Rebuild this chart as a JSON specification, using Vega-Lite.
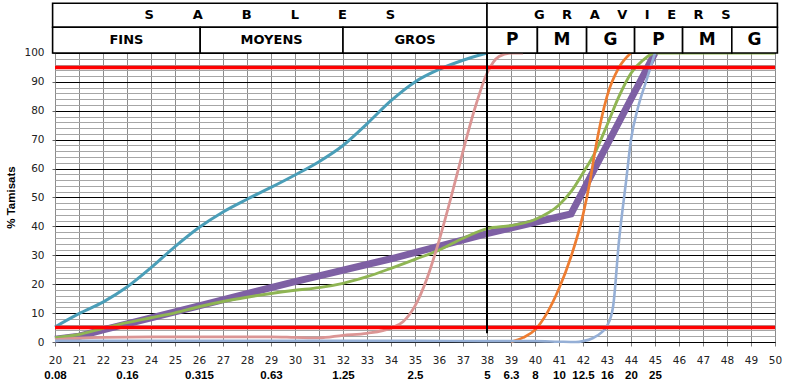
{
  "$schema": "https://vega.github.io/schema/vega-lite/v6.json",
  "width": 720,
  "height": 339,
  "autosize": {"type": "none"},
  "padding": {"left": 55, "top": 3, "right": 23, "bottom": 44},
  "config": {"view": {"stroke": null}},
  "resolve": {"axis": {"x": "independent", "y": "independent"}},
  "datasets": {
    "courbes": [
      {"serie": "Fuseau", "module": 20, "tamisat": 1},
      {"serie": "Fuseau", "module": 21, "tamisat": 2},
      {"serie": "Fuseau", "module": 22, "tamisat": 4.2},
      {"serie": "Fuseau", "module": 26, "tamisat": 12.5},
      {"serie": "Fuseau", "module": 30, "tamisat": 20.9},
      {"serie": "Fuseau", "module": 34, "tamisat": 28.8},
      {"serie": "Fuseau", "module": 38, "tamisat": 37.5},
      {"serie": "Fuseau", "module": 41.5, "tamisat": 44.3},
      {"serie": "Fuseau", "module": 45, "tamisat": 100},

      {"serie": "Sable 1", "module": 20, "tamisat": 5.2},
      {"serie": "Sable 1", "module": 21, "tamisat": 9.8},
      {"serie": "Sable 1", "module": 22, "tamisat": 13.8},
      {"serie": "Sable 1", "module": 23, "tamisat": 19},
      {"serie": "Sable 1", "module": 24, "tamisat": 25.7},
      {"serie": "Sable 1", "module": 25, "tamisat": 33},
      {"serie": "Sable 1", "module": 26, "tamisat": 39.6},
      {"serie": "Sable 1", "module": 27, "tamisat": 45},
      {"serie": "Sable 1", "module": 28, "tamisat": 49.4},
      {"serie": "Sable 1", "module": 29, "tamisat": 53.5},
      {"serie": "Sable 1", "module": 30, "tamisat": 57.8},
      {"serie": "Sable 1", "module": 31, "tamisat": 62.4},
      {"serie": "Sable 1", "module": 32, "tamisat": 68},
      {"serie": "Sable 1", "module": 33, "tamisat": 75.5},
      {"serie": "Sable 1", "module": 34, "tamisat": 83.5},
      {"serie": "Sable 1", "module": 35, "tamisat": 90},
      {"serie": "Sable 1", "module": 36, "tamisat": 94.3},
      {"serie": "Sable 1", "module": 37, "tamisat": 97.5},
      {"serie": "Sable 1", "module": 38, "tamisat": 100},

      {"serie": "Mélange", "module": 20, "tamisat": 1.5},
      {"serie": "Mélange", "module": 21, "tamisat": 2.6},
      {"serie": "Mélange", "module": 22, "tamisat": 4.7},
      {"serie": "Mélange", "module": 23, "tamisat": 6.7},
      {"serie": "Mélange", "module": 24, "tamisat": 8.4},
      {"serie": "Mélange", "module": 25, "tamisat": 10.1},
      {"serie": "Mélange", "module": 26, "tamisat": 12.2},
      {"serie": "Mélange", "module": 27, "tamisat": 14},
      {"serie": "Mélange", "module": 28, "tamisat": 15.5},
      {"serie": "Mélange", "module": 29, "tamisat": 16.8},
      {"serie": "Mélange", "module": 30, "tamisat": 17.9},
      {"serie": "Mélange", "module": 31, "tamisat": 18.8},
      {"serie": "Mélange", "module": 32, "tamisat": 20.3},
      {"serie": "Mélange", "module": 33, "tamisat": 22.6},
      {"serie": "Mélange", "module": 34, "tamisat": 25.5},
      {"serie": "Mélange", "module": 35, "tamisat": 28.6},
      {"serie": "Mélange", "module": 36, "tamisat": 31.8},
      {"serie": "Mélange", "module": 37, "tamisat": 35.9},
      {"serie": "Mélange", "module": 38, "tamisat": 39.2},
      {"serie": "Mélange", "module": 39, "tamisat": 40.3},
      {"serie": "Mélange", "module": 40, "tamisat": 42.4},
      {"serie": "Mélange", "module": 41, "tamisat": 47.4},
      {"serie": "Mélange", "module": 41.5, "tamisat": 52},
      {"serie": "Mélange", "module": 42, "tamisat": 58.5},
      {"serie": "Mélange", "module": 42.5, "tamisat": 65.5},
      {"serie": "Mélange", "module": 43, "tamisat": 75},
      {"serie": "Mélange", "module": 43.5, "tamisat": 85},
      {"serie": "Mélange", "module": 44, "tamisat": 93},
      {"serie": "Mélange", "module": 44.5, "tamisat": 97.5},
      {"serie": "Mélange", "module": 45, "tamisat": 100},
      {"serie": "Mélange", "module": 50, "tamisat": 100},

      {"serie": "Sable 2", "module": 20, "tamisat": 0.8},
      {"serie": "Sable 2", "module": 21, "tamisat": 1.3},
      {"serie": "Sable 2", "module": 22, "tamisat": 1.6},
      {"serie": "Sable 2", "module": 24, "tamisat": 1.8},
      {"serie": "Sable 2", "module": 26, "tamisat": 1.8},
      {"serie": "Sable 2", "module": 28, "tamisat": 1.8},
      {"serie": "Sable 2", "module": 29, "tamisat": 1.8},
      {"serie": "Sable 2", "module": 30, "tamisat": 1.6},
      {"serie": "Sable 2", "module": 31, "tamisat": 1.4},
      {"serie": "Sable 2", "module": 32, "tamisat": 2.3},
      {"serie": "Sable 2", "module": 33, "tamisat": 3},
      {"serie": "Sable 2", "module": 34, "tamisat": 4.8},
      {"serie": "Sable 2", "module": 34.5, "tamisat": 7},
      {"serie": "Sable 2", "module": 35, "tamisat": 12.5},
      {"serie": "Sable 2", "module": 35.5, "tamisat": 22},
      {"serie": "Sable 2", "module": 36, "tamisat": 35},
      {"serie": "Sable 2", "module": 36.5, "tamisat": 50},
      {"serie": "Sable 2", "module": 37, "tamisat": 66},
      {"serie": "Sable 2", "module": 37.5, "tamisat": 81},
      {"serie": "Sable 2", "module": 38, "tamisat": 93},
      {"serie": "Sable 2", "module": 38.5, "tamisat": 98.8},
      {"serie": "Sable 2", "module": 39, "tamisat": 100},
      {"serie": "Sable 2", "module": 39.5, "tamisat": 100},

      {"serie": "Gravier 1", "module": 39, "tamisat": 0},
      {"serie": "Gravier 1", "module": 39.5, "tamisat": 1.5},
      {"serie": "Gravier 1", "module": 40, "tamisat": 4.2},
      {"serie": "Gravier 1", "module": 40.5, "tamisat": 10},
      {"serie": "Gravier 1", "module": 41, "tamisat": 18.5},
      {"serie": "Gravier 1", "module": 41.5, "tamisat": 29.5},
      {"serie": "Gravier 1", "module": 42, "tamisat": 44},
      {"serie": "Gravier 1", "module": 42.3, "tamisat": 56},
      {"serie": "Gravier 1", "module": 42.5, "tamisat": 66},
      {"serie": "Gravier 1", "module": 43, "tamisat": 85},
      {"serie": "Gravier 1", "module": 43.5, "tamisat": 95},
      {"serie": "Gravier 1", "module": 44, "tamisat": 100},

      {"serie": "Gravier 2", "module": 20, "tamisat": 0.4},
      {"serie": "Gravier 2", "module": 25, "tamisat": 0.4},
      {"serie": "Gravier 2", "module": 30, "tamisat": 0.4},
      {"serie": "Gravier 2", "module": 35, "tamisat": 0.4},
      {"serie": "Gravier 2", "module": 38, "tamisat": 0.3},
      {"serie": "Gravier 2", "module": 40, "tamisat": 0.3},
      {"serie": "Gravier 2", "module": 41, "tamisat": 0.1},
      {"serie": "Gravier 2", "module": 41.7, "tamisat": 0},
      {"serie": "Gravier 2", "module": 42, "tamisat": 0.3},
      {"serie": "Gravier 2", "module": 42.4, "tamisat": 1.3},
      {"serie": "Gravier 2", "module": 42.8, "tamisat": 3.5},
      {"serie": "Gravier 2", "module": 43, "tamisat": 5.5},
      {"serie": "Gravier 2", "module": 43.25, "tamisat": 12},
      {"serie": "Gravier 2", "module": 43.5, "tamisat": 35},
      {"serie": "Gravier 2", "module": 43.8, "tamisat": 56},
      {"serie": "Gravier 2", "module": 44, "tamisat": 70},
      {"serie": "Gravier 2", "module": 44.3, "tamisat": 81.4},
      {"serie": "Gravier 2", "module": 44.65, "tamisat": 90.7},
      {"serie": "Gravier 2", "module": 45, "tamisat": 100}
    ],
    "limites": [{"limite": 5}, {"limite": 95}],
    "entete": [
      {"niveau": 1, "famille": "sables", "label": "S\u2003\u2003\u2003A\u2003\u2003\u2003B\u2003\u2003\u2003L\u2003\u2003\u2003E\u2003\u2003\u2003S", "de": 19.9, "a": 38},
      {"niveau": 1, "famille": "graviers", "label": "G\u2003\u00a0R\u2003\u00a0A\u2003\u00a0V\u2003\u00a0I\u2003\u00a0E\u2003\u00a0R\u2003\u00a0S", "de": 38, "a": 50.1},
      {"niveau": 2, "famille": "sables", "label": "FINS", "de": 19.9, "a": 26.05},
      {"niveau": 2, "famille": "sables", "label": "MOYENS", "de": 26.05, "a": 32},
      {"niveau": 2, "famille": "sables", "label": "GROS", "de": 32, "a": 38},
      {"niveau": 2, "famille": "graviers", "label": "P", "de": 38, "a": 40.1},
      {"niveau": 2, "famille": "graviers", "label": "M", "de": 40.1, "a": 42.15},
      {"niveau": 2, "famille": "graviers", "label": "G", "de": 42.15, "a": 44.15},
      {"niveau": 2, "famille": "graviers", "label": "P", "de": 44.15, "a": 46.15},
      {"niveau": 2, "famille": "graviers", "label": "M", "de": 46.15, "a": 48.2},
      {"niveau": 2, "famille": "graviers", "label": "G", "de": 48.2, "a": 50.1}
    ]
  },
  "layer": [
    {
      "data": {"name": "courbes"},
      "transform": [{"filter": "datum.serie === 'Fuseau'"}],
      "mark": {"type": "line", "interpolate": "linear", "strokeWidth": 7, "color": "#7E60A4"},
      "encoding": {
        "x": {
          "field": "module", "type": "quantitative",
          "scale": {"domain": [20, 50], "nice": false, "zero": false},
          "axis": {
            "values": [20,21,22,23,24,25,26,27,28,29,30,31,32,33,34,35,36,37,38,39,40,41,42,43,44,45,46,47,48,49,50],
            "title": null, "grid": true, "gridColor": "#8c8c8c", "gridWidth": 1,
            "tickSize": 4, "tickColor": "#808080", "domainColor": "#000000", "domainWidth": 1,
            "labelFont": "DejaVu Sans", "labelFontSize": 10.5, "labelColor": "#222222",
            "labelPadding": 9, "labelFlush": false, "labelOverlap": false, "labelBound": false
          }
        },
        "y": {
          "field": "tamisat", "type": "quantitative",
          "scale": {"domain": [0, 117.3], "nice": false, "zero": true},
          "axis": {
            "orient": "left",
            "values": [0,10,20,30,40,50,60,70,80,90,100],
            "labelOverlap": false, "labelBound": false,
            "grid": true, "gridColor": "#000000", "gridWidth": 1,
            "tickSize": 3, "tickColor": "#666666",
            "domain": false,
            "labelFont": "DejaVu Sans", "labelFontSize": 10.5, "labelColor": "#222222", "labelPadding": 8,
            "title": "% Tamisats", "titleFont": "Liberation Sans", "titleFontSize": 11.5, "titleFontWeight": "bold",
            "titleColor": "#000000", "titlePadding": 7, "titleY": 194
          }
        }
      }
    },
    {
      "data": {"name": "courbes"},
      "transform": [{"filter": "datum.serie !== 'Fuseau'"}],
      "mark": {"type": "line", "interpolate": "monotone"},
      "encoding": {
        "x": {"field": "module", "type": "quantitative", "axis": null},
        "y": {"field": "tamisat", "type": "quantitative", "axis": null},
        "color": {
          "field": "serie", "type": "nominal", "legend": null,
          "scale": {"domain": ["Sable 1", "Mélange", "Sable 2", "Gravier 1", "Gravier 2"], "range": ["#4A9EB8", "#8FB553", "#DB9594", "#EE7D31", "#95AFD6"]}
        },
        "strokeWidth": {
          "field": "serie", "type": "nominal", "legend": null,
          "scale": {"domain": ["Sable 1", "Mélange", "Sable 2", "Gravier 1", "Gravier 2"], "range": [3, 2.6, 3, 2.6, 3]}
        }
      }
    },
    {
      "data": {"name": "limites"},
      "mark": {"type": "rule", "color": "#FF0000", "strokeWidth": 3.5},
      "encoding": {
        "y": {
          "field": "limite", "type": "quantitative",
          "axis": {
            "orient": "left",
            "values": [2,4,6,8,12,14,16,18,22,24,26,28,32,34,36,38,42,44,46,48,52,54,56,58,62,64,66,68,72,74,76,78,82,84,86,88,92,94,96,98],
            "labels": false, "ticks": false, "domain": false, "title": null,
            "grid": true, "gridColor": "#a6a6a6", "gridWidth": 1
          }
        }
      }
    },
    {
      "data": {"name": "limites"},
      "transform": [{"filter": "datum.limite === 5"}],
      "mark": {"type": "rule", "color": "#000000", "strokeWidth": 2},
      "encoding": {
        "x": {"datum": 38, "type": "quantitative", "axis": null},
        "y": {"datum": 3, "type": "quantitative", "axis": null},
        "y2": {"datum": 100}
      }
    },
    {
      "data": {"name": "entete"},
      "transform": [{"filter": "datum.niveau === 1"}],
      "mark": {"type": "rect", "fill": "#ffffff", "stroke": "#000000", "strokeWidth": 1.6},
      "encoding": {
        "x": {
          "field": "de", "type": "quantitative",
          "axis": {
            "orient": "bottom", "title": null,
            "values": [20,23,26,29,32,35,38,39,40,41,42,43,44,45],
            "labelExpr": "{'20':'0.08','23':'0.16','26':'0.315','29':'0.63','32':'1.25','35':'2.5','38':'5','39':'6.3','40':'8','41':'10','42':'12.5','43':'16','44':'20','45':'25'}[datum.value]",
            "grid": false, "ticks": false, "domain": false,
            "labelPadding": 27, "labelFont": "Liberation Sans", "labelFontWeight": "bold", "labelFontSize": 11.5,
            "labelColor": "#000000", "labelFlush": false, "labelOverlap": false, "labelBound": false
          }
        },
        "x2": {"field": "a"},
        "y": {"datum": 108.9, "type": "quantitative", "axis": null},
        "y2": {"datum": 117.2}
      }
    },
    {
      "data": {"name": "entete"},
      "transform": [{"filter": "datum.niveau === 2"}],
      "mark": {"type": "rect", "fill": "#ffffff", "stroke": "#000000", "strokeWidth": 1.6},
      "encoding": {
        "x": {"field": "de", "type": "quantitative", "axis": null},
        "x2": {"field": "a"},
        "y": {"datum": 100, "type": "quantitative", "axis": null},
        "y2": {"datum": 108.9}
      }
    },
    {
      "data": {"name": "entete"},
      "transform": [{"filter": "datum.niveau === 1"}, {"calculate": "(datum.de + datum.a) / 2", "as": "milieu"}],
      "mark": {"type": "text", "font": "DejaVu Sans", "fontWeight": "bold", "fontSize": 13, "color": "#000000", "align": "center", "baseline": "middle"},
      "encoding": {
        "x": {"field": "milieu", "type": "quantitative", "axis": null},
        "y": {"datum": 113.1, "type": "quantitative", "axis": null},
        "text": {"field": "label"}
      }
    },
    {
      "data": {"name": "entete"},
      "transform": [{"filter": "datum.niveau === 2 && datum.famille === 'sables'"}, {"calculate": "(datum.de + datum.a) / 2", "as": "milieu"}],
      "mark": {"type": "text", "font": "DejaVu Sans", "fontWeight": "bold", "fontSize": 13, "color": "#000000", "align": "center", "baseline": "middle"},
      "encoding": {
        "x": {"field": "milieu", "type": "quantitative", "axis": null},
        "y": {"datum": 104.5, "type": "quantitative", "axis": null},
        "text": {"field": "label"}
      }
    },
    {
      "data": {"name": "entete"},
      "transform": [{"filter": "datum.niveau === 2 && datum.famille === 'graviers'"}, {"calculate": "(datum.de + datum.a) / 2", "as": "milieu"}],
      "mark": {"type": "text", "font": "DejaVu Sans", "fontWeight": "bold", "fontSize": 17, "color": "#000000", "align": "center", "baseline": "middle"},
      "encoding": {
        "x": {"field": "milieu", "type": "quantitative", "axis": null},
        "y": {"datum": 104.5, "type": "quantitative", "axis": null},
        "text": {"field": "label"}
      }
    }
  ]
}
